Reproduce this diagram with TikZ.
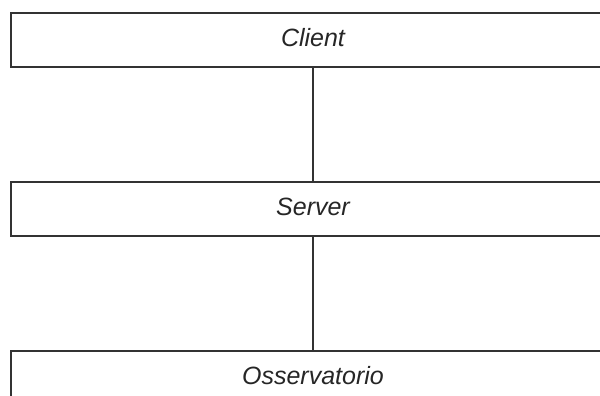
\documentclass[tikz,border=0pt]{standalone}
\usepackage{fontspec}
\setmainfont{Liberation Sans}
\begin{document}
\begin{tikzpicture}[x=1pt,y=1pt,
    tier/.style={draw=black!80,line width=1.4pt,fill=white,minimum width=604pt,minimum height=54pt,inner sep=0pt,
        text height=18pt,text depth=5pt,text=black!85,font=\fontsize{25}{30}\selectfont\itshape},
    link/.style={draw=black!80,line width=1.4pt}]
    \useasboundingbox (0,0) rectangle (600,-396);
    \clip (0,0) rectangle (600,-396);
    %draw tiers
    \node[tier] (client) at (313,-40) {Client};
    \node[tier] (server) at (313,-209) {Server};
    \node[tier] (osservatorio) at (313,-378) {Osservatorio};
    %draw links
    \draw[link] (client) -- (server);
    \draw[link] (server) -- (osservatorio);
\end{tikzpicture}
\end{document}
